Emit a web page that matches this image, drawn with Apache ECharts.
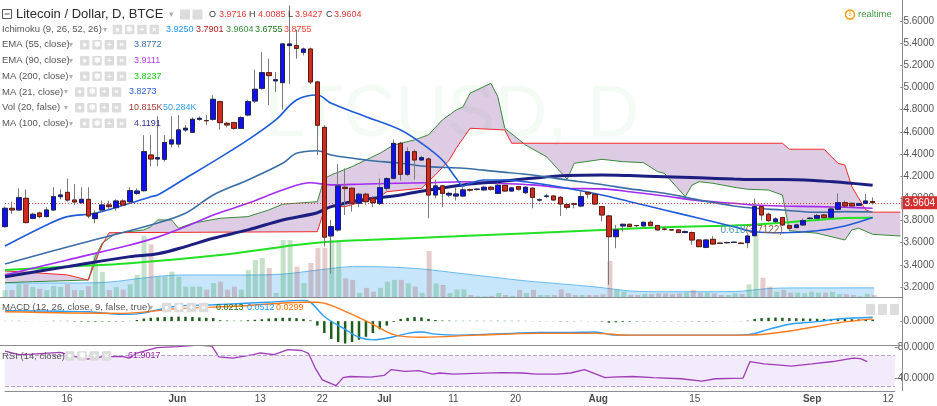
<!DOCTYPE html>
<html><head><meta charset="utf-8">
<script src="https://cdn.jsdelivr.net/npm/echarts@6/dist/echarts.min.js"></script>
<style>html,body{margin:0;padding:0;background:#fff}#c{width:937px;height:406px}</style>
</head><body><div id="c"></div>
<script>
// ---------- categories (daily, 2016-05-07 .. 2016-09-13) ----------
const startDay = [2016, 4, 7];
const dayCount = 130;
const dates = [];
for (let i = 0; i < dayCount; i++) {
  const t = new Date(Date.UTC(startDay[0], startDay[1], startDay[2] + i));
  dates.push(t.toISOString().slice(0, 10));
}
const tickDates = ['2016-05-16','2016-06-01','2016-06-13','2016-06-22','2016-07-01','2016-07-11','2016-07-20','2016-08-01','2016-08-15','2016-09-01','2016-09-12'];
const tickTexts = ['16','Jun','13','22','Jul','11','20','Aug','15','Sep','12'];

// ---------- OHLC ----------
const open = [3.745,3.910,3.895,4.000,3.820,3.868,3.835,3.895,4.015,4.054,3.985,3.961,3.991,3.817,3.895,3.940,3.916,3.976,3.970,4.045,
4.069,4.391,4.355,4.352,4.490,4.490,4.617,4.596,4.713,4.702,4.713,4.872,4.677,4.683,4.632,4.752,4.878,4.993,5.134,5.060,
5.044,5.378,5.378,5.317,5.347,5.050,4.640,3.661,3.715,4.100,4.091,3.955,4.037,4.000,3.955,4.091,4.181,4.496,4.217,4.421,
4.346,4.355,4.030,4.112,4.030,4.021,4.021,4.078,4.080,4.076,4.100,4.045,4.118,4.066,4.106,4.051,4.091,3.985,4.018,4.021,
4.009,3.943,3.951,3.931,4.054,4.036,3.925,3.841,3.654,3.751,3.766,3.755,3.751,3.784,3.754,3.722,3.716,3.715,3.691,3.691,
3.624,3.558,3.630,3.595,3.600,3.602,3.596,3.600,3.663,3.925,3.856,3.790,3.826,3.754,3.736,3.760,3.818,3.820,3.850,3.829,
3.901,3.961,3.955,3.937,3.955,3.9716];
const high = [3.925,3.970,4.090,4.080,3.870,3.880,3.920,4.100,4.080,4.180,4.130,4.100,4.100,3.890,3.980,3.980,3.990,3.990,4.100,4.090,
4.570,4.570,4.740,4.570,4.740,4.750,4.660,4.730,4.740,4.750,4.930,4.880,4.690,4.690,4.740,4.890,5.160,5.320,5.260,5.140,
5.400,5.740,5.520,5.360,5.360,5.060,4.660,3.805,4.310,4.270,4.100,4.050,4.050,4.020,4.180,4.190,4.530,4.510,4.460,4.440,
4.380,4.370,4.170,4.120,4.060,4.100,4.100,4.090,4.090,4.110,4.110,4.140,4.120,4.100,4.110,4.110,4.100,4.000,4.040,4.030,
4.020,3.960,3.960,4.070,4.060,4.040,3.930,3.850,3.760,3.770,3.770,3.760,3.790,3.800,3.760,3.740,3.720,3.720,3.710,3.700,
3.630,3.630,3.660,3.600,3.610,3.610,3.600,3.670,4.000,3.930,3.870,3.830,3.830,3.760,3.770,3.820,3.830,3.860,3.860,3.930,
4.045,3.980,3.960,3.960,4.040,4.0085];
const low = [3.735,3.860,3.890,3.775,3.810,3.820,3.830,3.890,3.990,3.970,3.940,3.950,3.820,3.775,3.880,3.900,3.890,3.930,3.960,4.030,
4.060,4.290,4.290,4.330,4.460,4.460,4.600,4.590,4.700,4.660,4.700,4.620,4.640,4.620,4.630,4.740,4.860,4.980,4.840,4.960,
4.800,5.030,5.260,5.290,5.030,4.390,3.565,3.318,3.700,3.850,3.880,3.920,3.940,3.920,3.940,4.070,4.170,4.160,4.200,4.170,
4.340,3.820,4.000,3.920,4.010,3.980,4.010,4.060,4.070,4.070,4.070,4.040,4.060,4.060,4.070,4.040,3.910,3.970,4.000,3.980,
3.840,3.900,3.910,3.920,4.000,3.940,3.790,3.220,3.550,3.700,3.740,3.740,3.745,3.750,3.710,3.710,3.710,3.690,3.690,3.580,
3.560,3.550,3.580,3.590,3.590,3.600,3.590,3.550,3.660,3.800,3.790,3.780,3.750,3.720,3.730,3.750,3.810,3.810,3.820,3.820,
3.890,3.920,3.920,3.930,3.950,3.9427];
const close = [3.910,3.895,4.006,3.781,3.856,3.835,3.895,4.015,4.030,3.985,3.967,3.991,3.841,3.865,3.940,3.925,3.976,3.940,4.069,4.066,
4.421,4.355,4.367,4.503,4.527,4.617,4.632,4.713,4.722,4.700,4.893,4.683,4.662,4.632,4.728,4.872,4.984,5.134,5.107,5.070,
5.393,5.393,5.353,5.347,5.050,4.660,3.650,3.745,4.112,4.088,3.955,4.037,3.970,3.961,4.097,4.178,4.496,4.217,4.421,4.346,
4.367,4.030,4.112,4.045,4.045,4.039,4.076,4.074,4.083,4.100,4.082,4.118,4.066,4.094,4.082,4.100,4.009,3.986,4.021,3.985,
3.949,3.919,3.947,4.015,4.039,3.949,3.850,3.654,3.715,3.766,3.745,3.754,3.784,3.754,3.715,3.721,3.715,3.691,3.700,3.624,
3.564,3.624,3.588,3.594,3.601,3.604,3.592,3.660,3.925,3.850,3.799,3.814,3.760,3.730,3.760,3.799,3.821,3.844,3.826,3.904,
3.961,3.931,3.931,3.952,3.976,3.9604];
const lastPrice = 3.9604;

// ---------- volume (K) ----------
const volume = [38,39,70,70,55,45,38,60,55,70,38,38,60,242,139,38,55,40,70,121,
337,290,112,112,139,112,57,57,57,40,77,84,40,57,40,148,203,214,160,22,
313,313,167,77,187,270,270,313,313,103,94,22,50,29,50,84,94,94,75,57,
22,253,75,66,22,42,42,11,4,4,6,22,11,6,39,22,39,11,11,11,
42,22,11,11,11,11,15,198,42,29,11,11,17,17,20,20,17,20,24,39,
24,24,20,11,11,20,17,70,350,106,57,29,39,24,24,20,29,24,24,29,
15,15,11,4,17,10.815];
const volMA = [[0,77],[5,77],[10,77],[15,82],[20,105],[25,121],[30,121],[35,121],[40,126],[45,148],[50,167],[55,165],[60,154],[65,132],[70,110],[75,88],[80,72],[85,55],[90,33],[95,29],[100,29],[105,30],[110,47],[115,50],[120,50],[125,50.284]];

// ---------- overlays [dayIndex, value] ----------
const ma21 = [[0,3.57],[6,3.76],[9,3.835],[13,3.865],[18,3.955],[21,4.015],[22,4.03],[26,4.181],[30,4.331],[35,4.527],[39,4.707],[42,4.887],[45,4.932],[47,4.857],[52,4.737],[57,4.617],[60,4.497],[63,4.346],[65,4.181],[66,4.111],[67,4.136],[69,4.166],[72,4.166],[76,4.141],[81,4.091],[86,4.03],[90,3.97],[95,3.895],[100,3.82],[105,3.744],[108,3.699],[112,3.69],[117,3.708],[121,3.751],[125,3.8273]];
const ema55 = [[0,3.408],[11,3.595],[21,3.76],[26,3.865],[30,4.03],[35,4.166],[40,4.316],[42,4.406],[45,4.43],[47,4.391],[52,4.346],[57,4.316],[61,4.286],[66,4.271],[71,4.241],[76,4.211],[81,4.166],[86,4.125],[90,4.085],[95,4.046],[100,3.985],[105,3.931],[108,3.91],[112,3.895],[117,3.874],[121,3.88],[125,3.8772]];
const ema90 = [[0,3.309],[9,3.444],[18,3.579],[22,3.65],[26,3.744],[30,3.85],[35,3.955],[40,4.075],[44,4.14],[47,4.121],[52,4.13],[61,4.141],[66,4.15],[71,4.136],[76,4.121],[81,4.091],[86,4.085],[90,4.06],[95,4.021],[100,3.979],[105,3.955],[108,3.94],[112,3.931],[117,3.925],[121,3.919],[125,3.9111]];
const ma100 = [[0,3.293],[9,3.384],[18,3.474],[22,3.5],[26,3.564],[30,3.64],[35,3.715],[40,3.805],[45,3.87],[47,3.925],[52,3.991],[57,4.03],[61,4.075],[66,4.121],[71,4.15],[76,4.181],[81,4.205],[86,4.21],[90,4.205],[95,4.195],[100,4.185],[105,4.175],[108,4.17],[112,4.17],[117,4.159],[121,4.141],[125,4.1191]];
const ma200 = [[0,3.354],[9,3.384],[18,3.414],[31,3.489],[40,3.564],[45,3.6],[52,3.624],[65,3.657],[86,3.715],[95,3.739],[107,3.76],[112,3.78],[117,3.805],[121,3.822],[125,3.8237]];
const leadA = [[0,3.239],[4,3.248],[9,3.257],[12,3.264],[13,3.474],[14,3.595],[16,3.685],[20,3.715],[21,3.744],[22,3.805],[24,3.805],[25,3.73],[27,3.775],[31,3.82],[35,3.835],[38,3.895],[40,3.947],[45,3.97],[46,4.18],[47,4.211],[50,4.286],[51,4.316],[54,4.406],[56,4.481],[59,4.527],[61,4.572],[63,4.707],[65,4.797],[66,4.827],[67,4.948],[70,5.038],[71,4.917],[72,4.632],[75,4.481],[78,4.376],[81,4.172],[82,4.316],[86,4.352],[89,4.331],[92,4.322],[94,4.241],[95,4.226],[98,4.015],[99,4.121],[100,4.15],[102,4.136],[105,4.1],[107,4.082],[110,4.075],[112,4.03],[113,3.708],[117,3.685],[121,3.624],[122,3.715],[123,3.73],[125,3.6755],[129,3.66]];
const leadB = [[0,3.345],[4,3.33],[9,3.309],[12,3.262],[13,3.43],[14,3.58],[15,3.69],[45,3.699],[46,3.9],[47,3.925],[49,3.925],[54,4.015],[55,4.06],[60,4.091],[62,4.211],[64,4.346],[65,4.452],[67,4.632],[72,4.617],[73,4.497],[112,4.497],[113,4.443],[118,4.443],[120,4.316],[121,4.301],[122,4.105],[124,3.895],[125,3.8755],[129,3.875]];

// ---------- MACD ----------
const macdHist = [0.003,0.003,0.004,0.002,-0.001,0.001,0.002,0.004,0.003,0.004,-0.006,-0.007,-0.008,-0.008,-0.006,-0.006,-0.005,-0.004,0.003,0.015,
0.035,0.045,0.05,0.055,0.058,0.06,0.058,0.055,0.05,0.045,0.04,0.012,0.008,0.005,0.006,0.012,0.018,0.025,0.035,0.04,
0.045,0.045,0.04,0.03,0.01,-0.06,-0.16,-0.24,-0.28,-0.3,-0.28,-0.25,-0.21,-0.16,-0.11,-0.06,-0.01,0.03,0.045,0.055,
0.05,0.03,0.015,0.008,0.006,0.004,0.004,0.004,0.004,0.004,0.004,0.005,0.004,0.004,0.004,0.003,-0.002,-0.003,-0.002,-0.002,
-0.004,-0.004,-0.003,0.003,0.002,-0.002,-0.006,-0.02,-0.015,-0.01,-0.007,-0.005,-0.004,-0.003,-0.003,-0.003,-0.003,-0.003,-0.003,-0.004,
-0.005,-0.004,-0.004,-0.003,-0.002,-0.001,0.002,0.006,0.03,0.04,0.045,0.048,0.045,0.04,0.038,0.036,0.034,0.032,0.03,0.03,
0.03,0.028,0.026,0.024,0.022,0.0213];
const macdLine = [[0,0.139],[8,0.132],[12,0.125],[17,0.09],[19,0.097],[22,0.15],[25,0.202],[30,0.219],[34,0.237],[38,0.254],[43,0.278],[44,0.254],[46,0.063],[49,-0.111],[51,-0.216],[53,-0.251],[56,-0.209],[58,-0.164],[60,-0.146],[62,-0.174],[65,-0.188],[68,-0.181],[73,-0.164],[77,-0.153],[81,-0.153],[85,-0.146],[88,-0.188],[94,-0.188],[103,-0.188],[107,-0.181],[110,-0.111],[113,-0.042],[117,-0.007],[120,0.028],[125,0.0512]];
const signalLine = [[0,0.125],[17,0.104],[25,0.167],[34,0.202],[43,0.254],[45,0.254],[49,0.132],[53,-0.042],[56,-0.181],[60,-0.216],[68,-0.188],[77,-0.164],[85,-0.164],[90,-0.188],[107,-0.188],[112,-0.146],[120,-0.024],[125,0.0299]];

// ---------- RSI ----------
const rsi = [[0,75.3],[2,70.9],[4,71.5],[8,73.9],[10,68.5],[12,65],[14,67.9],[17,68.5],[18,66.4],[19,72.4],[22,79.8],[25,81.3],[28,83.3],[30,81.8],[31,67.9],[33,66.4],[36,70.9],[37,73],[39,70.9],[41,77.4],[43,76.2],[44,72.4],[45,53.1],[46,38.3],[48,30.9],[49,41.3],[50,42.7],[53,41.9],[55,44.2],[56,51.6],[58,49.3],[60,50.2],[62,45.7],[63,47.2],[65,45.7],[68,46.6],[72,47.8],[75,47.2],[77,45.7],[80,45.7],[82,47.2],[84,51.6],[87,41.3],[88,41.9],[91,42.7],[94,41.3],[98,39.8],[101,36.8],[103,39.8],[107,40.7],[108,62],[110,59],[112,57.6],[114,56.1],[117,59],[120,62],[123,66.4],[124,65.6],[125,61.9017]];

// ---------- build ----------
const FONT = 'Liberation Sans, Arial, sans-serif';
const L = 5, W = 897;
const candleFull = open.map((o, i) => [o, close[i], low[i], high[i]]);
const candleBody = open.map((o, i) => [o, close[i], Math.min(o, close[i]), Math.max(o, close[i])]);
const volData = volume.map((v, i) => ({value: v, itemStyle: {color: close[i] >= open[i] ? 'rgba(60,160,80,0.30)' : 'rgba(170,90,90,0.30)'}}));

function xAx(gi, showLabel) {
  return {
    type: 'category', gridIndex: gi, data: dates, boundaryGap: false,
    axisLine: {show: !!showLabel, lineStyle: {color: '#8c8c8c'}},
    axisTick: {show: false}, splitLine: {show: false},
    axisLabel: showLabel ? {
      show: true, margin: 3, fontFamily: FONT, fontSize: 10, color: '#4a4a4a',
      interval: (idx, val) => tickDates.indexOf(val) >= 0,
      formatter: (val) => { const t = tickTexts[tickDates.indexOf(val)]; return /[A-Za-z]/.test(t) ? '{b|' + t + '}' : t; },
      rich: {b: {fontWeight: 'bold', fontFamily: FONT, fontSize: 10, color: '#4a4a4a'}}
    } : {show: false}
  };
}
function line(name, pts, color, width, gi, smooth) {
  return {type: 'line', name, xAxisIndex: gi, yAxisIndex: gi, data: pts, symbol: 'none',
    smooth: smooth === undefined ? 0.35 : smooth, lineStyle: {color, width}, z: 3, silent: true};
}

function iconRow(x, y) {
  const out = [];
  const glyph = ['●', '✱', '+', '×'];
  for (let k = 0; k < 4; k++) {
    out.push({type: 'rect', shape: {x: x + k * 12.3, y: y - 4.7, width: 9.4, height: 9.4, r: 1}, style: {fill: '#dcdcdc'}});
    out.push({type: 'text', x: x + k * 12.3 + 4.7, y: y, style: {text: glyph[k], fill: '#fff', font: 'bold 8px ' + FONT, align: 'center', verticalAlign: 'middle'}});
  }
  return out;
}
const rows = [
  {name: 'Ichimoku (9, 26, 52, 26)', y: 29.5, arrow: 103, icons: 112.7, vals: [['3.9250', '#2196f3', 166], ['3.7901', '#b71c1c', 196], ['3.9604', '#388e3c', 226], ['3.6755', '#1b7a1b', 255], ['3.8755', '#f44336', 284]]},
  {name: 'EMA (55, close)', y: 44.7, arrow: 69, icons: 80, vals: [['3.8772', '#3a6ea5', 134]]},
  {name: 'EMA (90, close)', y: 60.7, arrow: 69, icons: 80, vals: [['3.9111', '#b13ff0', 134]]},
  {name: 'MA (200, close)', y: 76.3, arrow: 69, icons: 80, vals: [['3.8237', '#16d016', 134]]},
  {name: 'MA (21, close)', y: 92, arrow: 64, icons: 75, vals: [['3.8273', '#2b5fd0', 129]]},
  {name: 'Vol (20, false)', y: 107.7, arrow: 64, icons: 75, vals: [['10.815K', '#a0392e', 129], ['50.284K', '#2f9ff0', 163]]},
  {name: 'MA (100, close)', y: 123.3, arrow: 69, icons: 80, vals: [['4.1191', '#34349a', 134]]}
];
const graphics = [];
// watermark
graphics.push({type: 'text', x: 452, y: 116, z: -10, style: {text: 'LTCUSD, D', font: '72px ' + FONT, fill: 'rgba(60,170,70,0.06)', align: 'center', verticalAlign: 'middle'}});
graphics.push({type: 'text', x: 452, y: 180, z: -10, style: {text: 'Litecoin / Dollar', font: '22px ' + FONT, fill: 'rgba(60,170,70,0.05)', align: 'center', verticalAlign: 'middle'}});
// separators & axis line
graphics.push({type: 'line', shape: {x1: 902.5, y1: 0, x2: 902.5, y2: 391}, style: {stroke: '#8c8c8c', lineWidth: 1}, z: 50});
graphics.push({type: 'line', shape: {x1: 0, y1: 297.5, x2: 902, y2: 297.5}, style: {stroke: '#8c8c8c', lineWidth: 1}, z: 50});
graphics.push({type: 'line', shape: {x1: 0, y1: 345.5, x2: 902, y2: 345.5}, style: {stroke: '#8c8c8c', lineWidth: 1}, z: 50});
// title row
graphics.push({type: 'rect', shape: {x: 2.5, y: 9.5, width: 9, height: 9}, style: {fill: 'none', stroke: '#555', lineWidth: 1}, z: 60});
graphics.push({type: 'line', shape: {x1: 4.5, y1: 14, x2: 9.5, y2: 14}, style: {stroke: '#555', lineWidth: 1}, z: 60});
graphics.push({type: 'text', x: 16, y: 14.5, z: 60, style: {text: 'Litecoin / Dollar, D, BTCE', font: '13px ' + FONT, fill: '#2a2a2a', verticalAlign: 'middle'}});
graphics.push({type: 'text', x: 169, y: 14.5, z: 60, style: {text: '▾', font: '9px ' + FONT, fill: '#b0b0b0', verticalAlign: 'middle'}});
graphics.push({type: 'rect', shape: {x: 180, y: 9.5, width: 10, height: 10, r: 1}, style: {fill: '#dcdcdc'}, z: 60});
graphics.push({type: 'rect', shape: {x: 192.5, y: 9.5, width: 10, height: 10, r: 1}, style: {fill: '#dcdcdc'}, z: 60});
const ohlcTxt = [['O', 209], ['3.9716', 219, 1], ['H', 249], ['4.0085', 258, 1], ['L', 288], ['3.9427', 295, 1], ['C', 326], ['3.9604', 334, 1]];
ohlcTxt.forEach(t => graphics.push({type: 'text', x: t[1], y: 14.5, z: 60, style: {text: t[0], font: '9px ' + FONT, fill: t[2] ? '#e53935' : '#333', verticalAlign: 'middle'}}));
rows.forEach(r => {
  graphics.push({type: 'text', x: 2, y: r.y, z: 60, style: {text: r.name, font: '9.5px ' + FONT, fill: '#555', verticalAlign: 'middle'}});
  graphics.push({type: 'text', x: r.arrow, y: r.y, z: 60, style: {text: '▾', font: '8px ' + FONT, fill: '#b0b0b0', verticalAlign: 'middle'}});
  iconRow(r.icons, r.y).forEach(g => { g.z = 60; graphics.push(g); });
  r.vals.forEach(v => graphics.push({type: 'text', x: v[2], y: r.y, z: 60, style: {text: v[0], font: '9px ' + FONT, fill: v[1], verticalAlign: 'middle'}}));
});
// MACD legend
const macdLegY = 307.5;
graphics.push({type: 'text', x: 2, y: macdLegY, z: 60, style: {text: 'MACD (12, 26, close, 9, false, true)', font: '9.5px ' + FONT, fill: '#555', verticalAlign: 'middle'}});
graphics.push({type: 'text', x: 149, y: macdLegY, z: 60, style: {text: '▾', font: '8px ' + FONT, fill: '#b0b0b0', verticalAlign: 'middle'}});
iconRow(162, macdLegY).forEach(g => { g.z = 60; graphics.push(g); });
[['0.0213', '#1b6e20', 216], ['0.0512', '#2196f3', 247], ['0.0299', '#ff6d00', 276]].forEach(v => graphics.push({type: 'text', x: v[2], y: macdLegY, z: 60, style: {text: v[0], font: '9px ' + FONT, fill: v[1], verticalAlign: 'middle'}}));
for (let k = 0; k < 3; k++) graphics.push({type: 'rect', shape: {x: 866 + k * 12, y: 304, width: 9, height: 11, r: 1}, style: {fill: '#dcdcdc'}, z: 60});
// RSI legend
const rsiLegY = 356;
graphics.push({type: 'text', x: 2, y: rsiLegY, z: 60, style: {text: 'RSI (14, close)', font: '9.5px ' + FONT, fill: '#555', verticalAlign: 'middle'}});
iconRow(65, rsiLegY).forEach(g => { g.z = 60; graphics.push(g); });
graphics.push({type: 'text', x: 128, y: rsiLegY, z: 60, style: {text: '61.9017', font: '9px ' + FONT, fill: '#9c27b0', verticalAlign: 'middle'}});
// realtime
graphics.push({type: 'circle', shape: {cx: 850, cy: 14.5, r: 4.5}, style: {fill: 'none', stroke: '#ff9800', lineWidth: 1.5}, z: 60});
graphics.push({type: 'text', x: 850, y: 14.5, z: 60, style: {text: '!', font: 'bold 7px ' + FONT, fill: '#ff9800', align: 'center', verticalAlign: 'middle'}});
graphics.push({type: 'text', x: 858, y: 14.5, z: 60, style: {text: 'realtime', font: '9.5px ' + FONT, fill: '#43a047', verticalAlign: 'middle'}});

const chart = echarts.init(document.getElementById('c'), null, {renderer: 'canvas'});
chart.setOption({
  animation: false,
  backgroundColor: '#ffffff',
  textStyle: {fontFamily: FONT},
  grid: [
    {left: L, width: W, top: 21, height: 266},
    {left: L, width: W, top: 197, height: 100},
    {left: L, width: W, top: 298, height: 47},
    {left: L, width: W, top: 346, height: 45}
  ],
  xAxis: [xAx(0), xAx(1), xAx(2), xAx(3, true)],
  yAxis: [
    {type: 'value', gridIndex: 0, position: 'right', min: 3.2, max: 5.6, interval: 0.2, scale: true,
      axisLine: {show: false}, axisTick: {show: true, length: 3, lineStyle: {color: '#8c8c8c'}}, splitLine: {show: false},
      axisLabel: {margin: 3, fontFamily: FONT, fontSize: 10, color: '#555', formatter: v => v.toFixed(4)}},
    {type: 'value', gridIndex: 1, min: 0, max: 550, show: false},
    {type: 'value', gridIndex: 2, position: 'right', min: -0.32, max: 0.31,
      axisLine: {show: false}, splitLine: {show: false},
      axisTick: {show: true, length: 3, customValues: [0], lineStyle: {color: '#8c8c8c'}},
      axisLabel: {customValues: [0], margin: 3, fontFamily: FONT, fontSize: 10, color: '#555', formatter: v => v.toFixed(4)}},
    {type: 'value', gridIndex: 3, position: 'right', min: 24, max: 82,
      axisLine: {show: false}, splitLine: {show: false},
      axisTick: {show: true, length: 3, customValues: [40, 80], lineStyle: {color: '#8c8c8c'}},
      axisLabel: {customValues: [40, 80], margin: 3, fontFamily: FONT, fontSize: 10, color: '#555', formatter: v => v.toFixed(4)}}
  ],
  graphic: graphics,
  series: [
    // volume
    {type: 'line', xAxisIndex: 1, yAxisIndex: 1, data: volMA, symbol: 'none', smooth: 0.3,
      lineStyle: {color: 'rgba(90,180,240,0.9)', width: 1}, areaStyle: {color: 'rgba(110,190,245,0.55)'}, z: 1, silent: true},
    {type: 'bar', xAxisIndex: 1, yAxisIndex: 1, data: volData, barWidth: 5, z: 2, silent: true},
    // ichimoku cloud
    {type: 'custom', xAxisIndex: 0, yAxisIndex: 0, data: [[0, 4]], z: 1, silent: true, clip: true,
      renderItem: (params, api) => {
        const pts = leadA.map(p => api.coord(p)).concat(leadB.slice().reverse().map(p => api.coord(p)));
        return {type: 'polygon', shape: {points: pts}, style: {fill: 'rgba(150,95,170,0.32)', stroke: null}};
      }},
    line('leadA', leadA, '#3a8a3a', 1, 0, false),
    line('leadB', leadB, '#f02a2a', 1, 0, false),
    line('MA200', ma200, '#22e022', 2, 0),
    line('EMA90', ema90, '#a22cf0', 1.6, 0),
    line('MA100', ma100, '#1c1f80', 3, 0),
    line('EMA55', ema55, '#3b6ea5', 1.6, 0),
    line('MA21', ma21, '#1f5bd6', 1.6, 0),
    // wicks
    {type: 'candlestick', xAxisIndex: 0, yAxisIndex: 0, data: candleFull, barWidth: 5, clip: false, z: 5, silent: true,
      itemStyle: {color: 'rgba(0,0,0,0)', color0: 'rgba(0,0,0,0)', borderColor: '#7a7a7a', borderColor0: '#7a7a7a', borderWidth: 1},
      markLine: {symbol: 'none', silent: true, data: [{yAxis: lastPrice}],
        lineStyle: {color: '#e53935', type: [1, 2], width: 1},
        label: {position: 'end', distance: 1, formatter: lastPrice.toFixed(4), color: '#fff', backgroundColor: '#d32f2f', padding: [2, 3, 1, 3], fontFamily: FONT, fontSize: 10}},
      markPoint: {symbol: 'rect', symbolSize: 1, silent: true, itemStyle: {color: 'rgba(0,0,0,0)'},
        data: [{coord: [103, 3.7122], label: {show: true, position: 'right', distance: 0, formatter: '{a|0.618}{b|(3.7122)}',
          rich: {a: {color: '#4c9ab0', fontSize: 10, fontFamily: FONT}, b: {color: '#9a5a3a', fontSize: 10, fontFamily: FONT}}}}]}},
    // bodies
    {type: 'candlestick', xAxisIndex: 0, yAxisIndex: 0, data: candleBody, barWidth: 5, clip: false, z: 6, silent: true,
      itemStyle: {color: '#1010f0', color0: '#cf2b1e', borderColor: '#1c2350', borderColor0: '#5e1c14', borderWidth: 1}},
    // MACD
    {type: 'bar', xAxisIndex: 2, yAxisIndex: 2, data: macdHist, barWidth: 2.5, itemStyle: {color: '#1f5e1f'}, silent: true},
    line('MACD', macdLine, '#2a9df4', 1.4, 2),
    line('Signal', signalLine, '#ff7a1a', 1.4, 2),
    // RSI
    {type: 'line', xAxisIndex: 3, yAxisIndex: 3, data: rsi, symbol: 'none', lineStyle: {color: '#a03cb8', width: 1.3}, silent: true,
      markArea: {silent: true, itemStyle: {color: 'rgba(160,110,230,0.14)'}, data: [[{yAxis: 30}, {yAxis: 70}]]},
      markLine: {silent: true, symbol: 'none', label: {show: false}, lineStyle: {color: '#b8a3cc', type: 'dashed', width: 1}, data: [{yAxis: 70}, {yAxis: 30}]}}
  ]
});
</script></body></html>
